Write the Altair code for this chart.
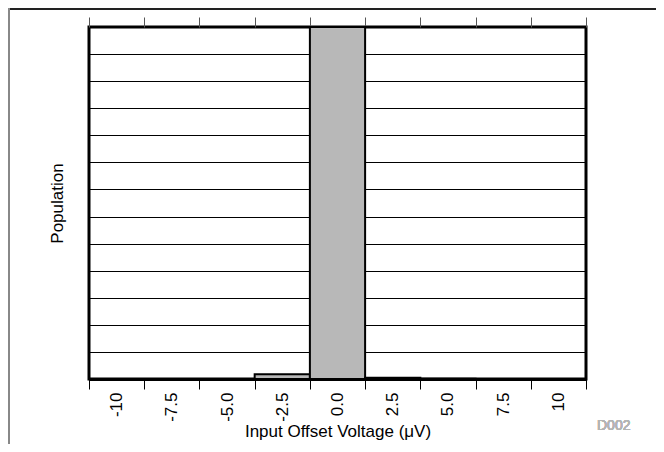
import altair as alt
import pandas as pd

bins = ["-10", "-7.5", "-5.0", "-2.5", "0.0", "2.5", "5.0", "7.5", "10"]
population = [0, 0, 0, 18, 1300, 5, 1, 0, 0]
grid_values = [0, 100, 200, 300, 400, 500, 600, 700, 800, 900, 1000, 1100, 1200, 1300]

df = pd.DataFrame({"bin": bins, "pop": population})

W, H = 497, 352
PL, PT, PR, PB = 81, 19, 70, 65

xscale = alt.Scale(domain=bins, paddingInner=0, paddingOuter=0)
yscale = alt.Scale(domain=[0, 1300], nice=False)

bars = alt.Chart(df).mark_bar(
    fill="#b8b8b8", stroke="black", strokeWidth=2
).encode(
    x=alt.X("bin:N", sort=bins, scale=xscale,
            axis=alt.Axis(orient="bottom", title="Input Offset Voltage (\u03bcV)",
                          labelAngle=270, labelAlign="right", labelBaseline="middle",
                          labelFontSize=17, labelPadding=3, labelColor="black",
                          labelFont="Liberation Sans",
                          tickBand="extent", tickSize=10, tickColor="black",
                          tickWidth=1, domainColor="black", domainWidth=3,
                          titleFontSize=17, titleFont="Liberation Sans",
                          titleFontWeight="normal", titleColor="black",
                          titlePadding=2)),
    y=alt.Y("pop:Q", scale=yscale,
            axis=alt.Axis(values=grid_values, labels=False, ticks=False, domain=False,
                          grid=True, gridColor="black", gridWidth=1, gridOpacity=1,
                          title="Population", titleFontSize=17,
                          titleFont="Liberation Sans", titleFontWeight="normal",
                          titleColor="black", titlePadding=23)),
)

top_ticks = alt.Chart(df).mark_rule(opacity=0).encode(
    x=alt.X("bin:N", sort=bins, scale=xscale,
            axis=alt.Axis(orient="top", title=None, labels=False,
                          tickBand="extent", tickSize=10, tickColor="#555555",
                          tickWidth=1, domain=False, grid=False)),
    y=alt.value(0),
)

code = alt.Chart(df).mark_text(
    text="D002", align="left", baseline="middle", fontSize=14,
    font="Liberation Sans", color="#b4b4b4"
).encode(x=alt.value(508), y=alt.value(399))

top_line = alt.Chart(df).mark_rule(color="#222222", strokeWidth=2).encode(
    x=alt.value(-PL), x2=alt.value(W + PR), y=alt.value(-PT + 1)
)
left_line = alt.Chart(df).mark_rule(color="#888888", strokeWidth=2).encode(
    x=alt.value(-PL + 1), y=alt.value(-PT), y2=alt.value(H + PB)
)

chart = alt.layer(bars, top_ticks, code, top_line, left_line).resolve_axis(
    x="independent"
).properties(
    width=W, height=H,
    autosize=alt.AutoSizeParams(type="none"),
    padding={"left": PL, "top": PT, "right": PR, "bottom": PB},
).configure_view(stroke="black", strokeWidth=3)

chart.save("out.html", embed_options={"renderer": "svg", "actions": False})
